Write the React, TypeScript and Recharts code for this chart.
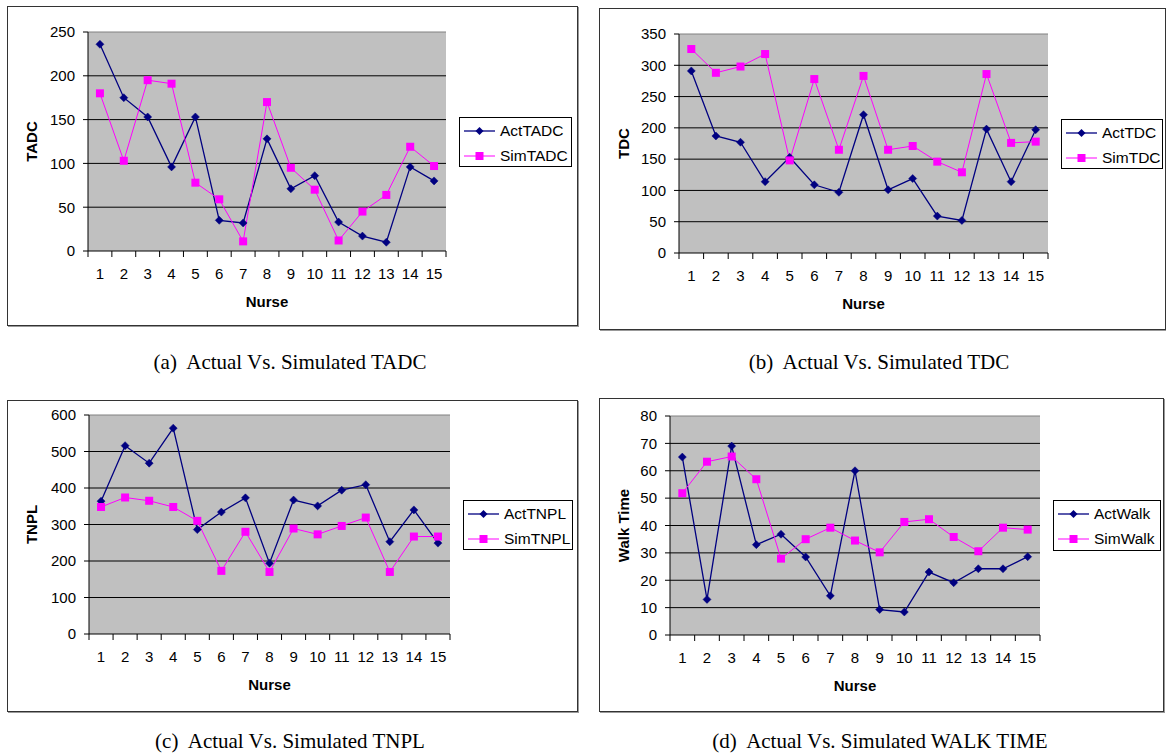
import React from 'react';
import { LineChart, Line, XAxis, YAxis, CartesianGrid, Legend, ReferenceLine, Label } from 'recharts';

const nurses = ['1', '2', '3', '4', '5', '6', '7', '8', '9', '10', '11', '12', '13', '14', '15'];

const actTADC = [236, 175, 153, 96, 153, 35, 32, 128, 71, 86, 33, 17, 10, 96, 80];
const simTADC = [180, 103, 195, 191, 78, 59, 11, 170, 95, 70, 12, 45, 64, 119, 97];
const tadcTicks = [0, 50, 100, 150, 200, 250];

const actTDC = [291, 187, 177, 114, 153, 109, 97, 221, 101, 119, 59, 52, 198, 114, 197];
const simTDC = [326, 288, 298, 318, 148, 278, 165, 283, 165, 171, 146, 129, 286, 176, 178];
const tdcTicks = [0, 50, 100, 150, 200, 250, 300, 350];

const actTNPL = [364, 516, 468, 564, 286, 334, 373, 194, 367, 351, 394, 409, 253, 340, 249];
const simTNPL = [348, 374, 365, 348, 310, 173, 280, 170, 289, 273, 296, 319, 170, 267, 267];
const tnplTicks = [0, 100, 200, 300, 400, 500, 600];

const actWalk = [65, 13, 69, 33, 36.8, 28.5, 14.3, 60, 9.3, 8.4, 23, 19.1, 24.2, 24.2, 28.6];
const simWalk = [51.8, 63.3, 65.2, 56.9, 27.9, 35, 39.2, 34.5, 30.2, 41.3, 42.3, 35.8, 30.6, 39.2, 38.5];
const walkTicks = [0, 10, 20, 30, 40, 50, 60, 70, 80];

const SANS = '"Liberation Sans", Arial, sans-serif';
const SERIF = '"Liberation Serif", "Times New Roman", serif';
const ACT = '#000080';
const SIM = '#ff00ff';

const diamond = (props: any) => {
  const { cx, cy, index } = props;
  if (cx == null || cy == null) return <g key={`d-${index}`} />;
  return (
    <polygon
      key={`d-${index}`}
      points={`${cx},${cy - 4} ${cx + 4},${cy} ${cx},${cy + 4} ${cx - 4},${cy}`}
      fill={ACT}
      stroke={ACT}
      strokeWidth={0.5}
    />
  );
};

const square = (props: any) => {
  const { cx, cy, index } = props;
  if (cx == null || cy == null) return <g key={`s-${index}`} />;
  return <rect key={`s-${index}`} x={cx - 4} y={cy - 4} width={8} height={8} fill={SIM} />;
};

function NurseTick(props: any) {
  const { x, y, payload, index, half, count } = props;
  return (
    <g>
      <line x1={x - half} x2={x - half} y1={y} y2={y + 6} stroke="#000" />
      {index === count - 1 && <line x1={x + half} x2={x + half} y1={y} y2={y + 6} stroke="#000" />}
      <text x={x} y={y + 22} textAnchor="middle" dominantBaseline="central" fontSize={15} fontFamily={SANS} fill="#000">
        {payload.value}
      </text>
    </g>
  );
}

function LegendBox({ payload, w, h }: any) {
  return (
    <div style={{ width: w, height: h, border: '1px solid #000', background: '#fff', boxSizing: 'border-box' }}>
      {(payload || []).map((p: any, i: number) => (
        <div key={p.value} style={{ display: 'flex', alignItems: 'center', height: 25 }}>
          <svg width={40} height={12} style={{ flex: 'none' }}>
            <line x1={4} x2={35} y1={6} y2={6} stroke={i === 0 ? ACT : SIM} strokeWidth={i === 0 ? 1.3 : 1} />
            {i === 0 ? (
              <polygon points="19.5,2 23.5,6 19.5,10 15.5,6" fill={ACT} />
            ) : (
              <rect x={15.5} y={2} width={8} height={8} fill={SIM} />
            )}
          </svg>
          <span style={{ fontFamily: SANS, fontSize: 15.5, color: '#000', whiteSpace: 'nowrap' }}>{p.value}</span>
        </div>
      ))}
    </div>
  );
}

type Box = { l: number; t: number; r: number; b: number };

function Panel(props: {
  box: Box;
  plot: Box;
  legend: Box;
  yTicks: number[];
  yLabel: string;
  names: [string, string];
  act: number[];
  sim: number[];
  caption: string;
  capX: number;
  capY: number;
}) {
  const { box, plot, legend, yTicks, yLabel, names, act, sim, caption, capX, capY } = props;
  const data = nurses.map((n, i) => ({ nurse: n, [names[0]]: act[i], [names[1]]: sim[i] }));
  const w = box.r - box.l;
  const h = box.b - box.t;
  const yMax = yTicks[yTicks.length - 1];
  const half = (plot.r - plot.l) / nurses.length / 2;
  return (
    <>
      <div
        style={{
          position: 'absolute',
          left: box.l,
          top: box.t,
          width: w,
          height: h,
          border: '1px solid #333',
          boxShadow: '1px 1px 0 #999',
          boxSizing: 'border-box',
        }}
      />
      <div style={{ position: 'absolute', left: box.l, top: box.t }}>
        <LineChart
          width={w}
          height={h}
          data={data}
          margin={{ top: plot.t - box.t, right: box.r - plot.r, left: 0, bottom: 0 }}
        >
          <CartesianGrid vertical={false} stroke="#000" fill="#c0c0c0" horizontalValues={yTicks.slice(1, -1)} />
          <XAxis
            dataKey="nurse"
            scale="band"
            height={box.b - plot.b}
            interval={0}
            tickLine={false}
            tickSize={0}
            tickMargin={0}
            axisLine={{ stroke: '#000' }}
            tick={<NurseTick half={half} count={nurses.length} />}
          >
            <Label
              value="Nurse"
              position="insideTop"
              offset={45}
              style={{ fontFamily: SANS, fontSize: 15, fontWeight: 'bold', fill: '#000' }}
            />
          </XAxis>
          <YAxis
            width={plot.l - box.l}
            domain={[0, yMax]}
            ticks={yTicks}
            interval={0}
            tickSize={5}
            tickMargin={8}
            tickLine={{ stroke: '#000' }}
            axisLine={{ stroke: '#000' }}
            tick={{ fill: '#000', fontSize: 15, fontFamily: SANS }}
          >
            <Label
              value={yLabel}
              angle={-90}
              position="insideLeft"
              offset={25}
              style={{ textAnchor: 'middle', fontFamily: SANS, fontSize: 15, fontWeight: 'bold', fill: '#000' }}
            />
          </YAxis>
          <YAxis
            yAxisId="edge"
            orientation="right"
            width={0}
            domain={[0, yMax]}
            tick={false}
            tickLine={false}
            axisLine={{ stroke: '#808080' }}
          />
          <ReferenceLine y={yMax} stroke="#808080" />
          <Legend
            layout="horizontal"
            verticalAlign="middle"
            align="center"
            wrapperStyle={{ left: legend.l - box.l, top: legend.t - box.t, width: legend.r - legend.l, height: legend.b - legend.t }}
            content={(p: any) => <LegendBox payload={p.payload} w={legend.r - legend.l} h={legend.b - legend.t} />}
          />
          <Line
            type="linear"
            dataKey={names[0]}
            stroke={ACT}
            strokeWidth={1.3}
            dot={diamond}
            activeDot={false}
            isAnimationActive={false}
          />
          <Line
            type="linear"
            dataKey={names[1]}
            stroke={SIM}
            strokeWidth={1}
            dot={square}
            activeDot={false}
            isAnimationActive={false}
          />
        </LineChart>
      </div>
      <div
        style={{
          position: 'absolute',
          left: capX,
          top: capY,
          transform: 'translate(-50%, -50%)',
          fontFamily: SERIF,
          fontSize: 21,
          color: '#000',
          whiteSpace: 'pre',
        }}
      >
        {caption}
      </div>
    </>
  );
}

export default function App() {
  return (
    <div style={{ position: 'absolute', left: 0, top: 0, width: 1166, height: 753, background: '#fff', overflow: 'hidden' }}>
      <Panel
        box={{ l: 7, t: 6, r: 578, b: 326 }}
        plot={{ l: 88, t: 32, r: 446, b: 251 }}
        legend={{ l: 459, t: 117, r: 572, b: 167 }}
        yTicks={tadcTicks}
        yLabel="TADC"
        names={['ActTADC', 'SimTADC']}
        act={actTADC}
        sim={simTADC}
        caption="(a)  Actual Vs. Simulated TADC"
        capX={290}
        capY={362}
      />
      <Panel
        box={{ l: 599, t: 8, r: 1166, b: 330 }}
        plot={{ l: 679, t: 34, r: 1048, b: 253 }}
        legend={{ l: 1061, t: 119, r: 1163, b: 169 }}
        yTicks={tdcTicks}
        yLabel="TDC"
        names={['ActTDC', 'SimTDC']}
        act={actTDC}
        sim={simTDC}
        caption="(b)  Actual Vs. Simulated TDC"
        capX={879}
        capY={362}
      />
      <Panel
        box={{ l: 7, t: 400, r: 578, b: 712 }}
        plot={{ l: 89, t: 415, r: 450, b: 634 }}
        legend={{ l: 463, t: 500, r: 573, b: 550 }}
        yTicks={tnplTicks}
        yLabel="TNPL"
        names={['ActTNPL', 'SimTNPL']}
        act={actTNPL}
        sim={simTNPL}
        caption="(c)  Actual Vs. Simulated TNPL"
        capX={290}
        capY={741}
      />
      <Panel
        box={{ l: 599, t: 398, r: 1164, b: 712 }}
        plot={{ l: 670, t: 416, r: 1040, b: 635 }}
        legend={{ l: 1053, t: 500, r: 1161, b: 551 }}
        yTicks={walkTicks}
        yLabel="Walk Time"
        names={['ActWalk', 'SimWalk']}
        act={actWalk}
        sim={simWalk}
        caption="(d)  Actual Vs. Simulated WALK TIME"
        capX={880}
        capY={741}
      />
    </div>
  );
}
